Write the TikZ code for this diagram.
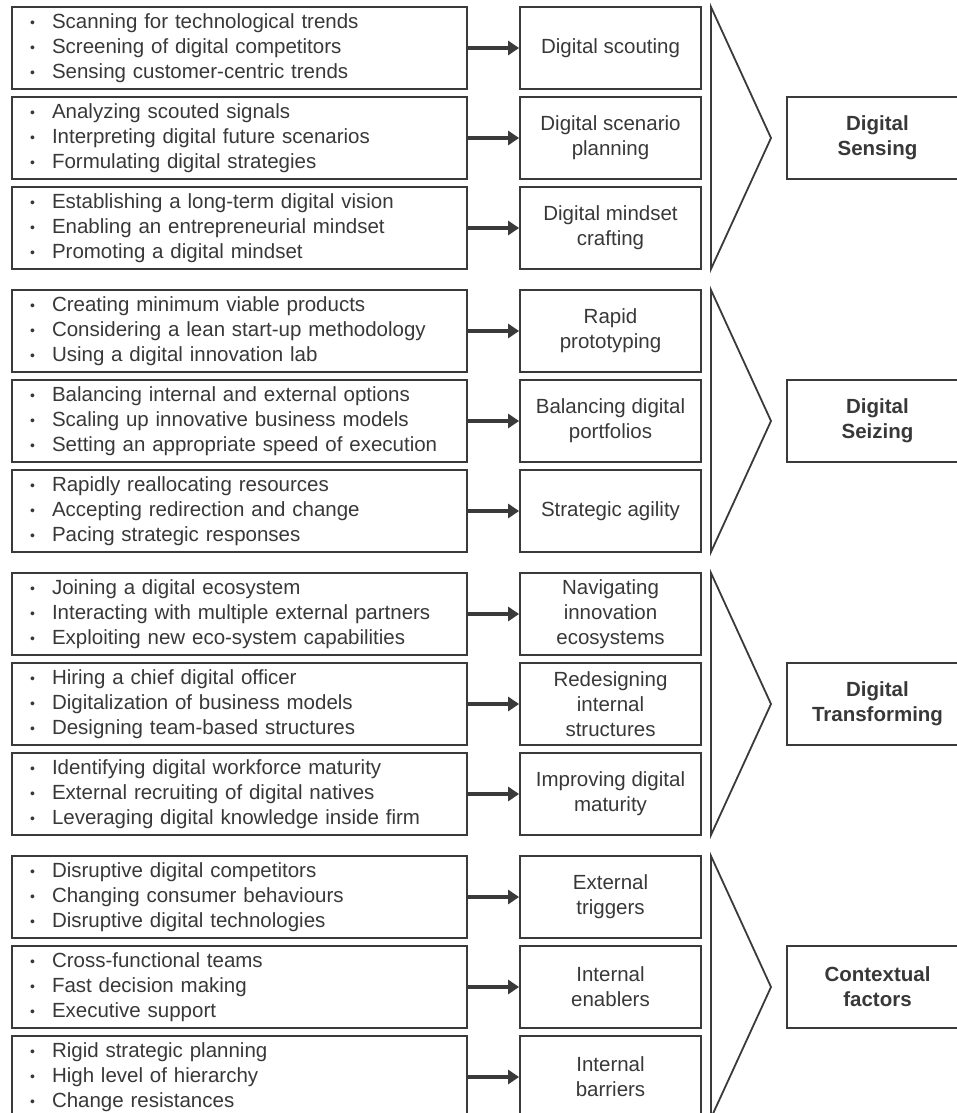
\documentclass[tikz,border=0pt]{standalone}
\usepackage{fontspec}
\setmainfont{Liberation Sans}
\usetikzlibrary{arrows.meta}
\definecolor{linegray}{HTML}{3A3A3A}
\definecolor{textgray}{HTML}{383838}
\newcommand{\itm}[1]{\makebox[22pt][l]{\raisebox{1pt}{\fontsize{14}{14}\selectfont\textbullet}}\mbox{#1}}

\begin{document}
\begin{tikzpicture}[x=1pt, y=-1pt,
  lbox/.style={draw=linegray, line width=1.8pt, text=textgray, text width=419pt, inner xsep=18pt, inner ysep=0pt, minimum height=82pt, align=left, font=\fontsize{20.5}{25}\selectfont},
  mbox/.style={draw=linegray, line width=1.8pt, text=textgray, minimum width=181pt, minimum height=82pt, inner sep=0pt, align=center, font=\fontsize{20.5}{25}\selectfont},
  rbox/.style={mbox, font=\fontsize{20.5}{25}\selectfont\bfseries},
  chev/.style={draw=linegray, line width=1.8pt, line join=miter},
  arr/.style={draw=linegray, line width=3.6pt, -{Triangle[length=11pt, width=14pt]}}]
\useasboundingbox (0,0) rectangle (957,1113);
\clip (0,0) rectangle (957,1113);

% digital sensing
\node[lbox] (l1) at (239.5,48) {\itm{Scanning for technological trends}\\ \itm{Screening of digital competitors}\\ \itm{Sensing customer-centric trends}};
\node[lbox] (l2) at (239.5,138) {\itm{Analyzing scouted signals}\\ \itm{Interpreting digital future scenarios}\\ \itm{Formulating digital strategies}};
\node[lbox] (l3) at (239.5,228) {\itm{Establishing a long-term digital vision}\\ \itm{Enabling an entrepreneurial mindset}\\ \itm{Promoting a digital mindset}};
\node[mbox] (m1) at (610.5,48) {Digital scouting};
\node[mbox] (m2) at (610.5,138) {Digital scenario\\ planning};
\node[mbox] (m3) at (610.5,228) {Digital mindset\\ crafting};
\node[rbox] (r1) at (877.5,138) {Digital\\ Sensing};

% digital seizing
\node[lbox] (l4) at (239.5,331) {\itm{Creating minimum viable products}\\ \itm{Considering a lean start-up methodology}\\ \itm{Using a digital innovation lab}};
\node[lbox] (l5) at (239.5,421) {\itm{Balancing internal and external options}\\ \itm{Scaling up innovative business models}\\ \itm{Setting an appropriate speed of execution}};
\node[lbox] (l6) at (239.5,511) {\itm{Rapidly reallocating resources}\\ \itm{Accepting redirection and change}\\ \itm{Pacing strategic responses}};
\node[mbox] (m4) at (610.5,331) {Rapid\\ prototyping};
\node[mbox] (m5) at (610.5,421) {Balancing digital\\ portfolios};
\node[mbox] (m6) at (610.5,511) {Strategic agility};
\node[rbox] (r2) at (877.5,421) {Digital\\ Seizing};

% digital transforming
\node[lbox] (l7) at (239.5,614) {\itm{Joining a digital ecosystem}\\ \itm{Interacting with multiple external partners}\\ \itm{Exploiting new eco-system capabilities}};
\node[lbox] (l8) at (239.5,704) {\itm{Hiring a chief digital officer}\\ \itm{Digitalization of business models}\\ \itm{Designing team-based structures}};
\node[lbox] (l9) at (239.5,794) {\itm{Identifying digital workforce maturity}\\ \itm{External recruiting of digital natives}\\ \itm{Leveraging digital knowledge inside firm}};
\node[mbox] (m7) at (610.5,614) {Navigating\\ innovation\\ ecosystems};
\node[mbox] (m8) at (610.5,704) {Redesigning\\ internal\\ structures};
\node[mbox] (m9) at (610.5,794) {Improving digital\\ maturity};
\node[rbox] (r3) at (877.5,704) {Digital\\ Transforming};

% contextual factors
\node[lbox] (l10) at (239.5,897) {\itm{Disruptive digital competitors}\\ \itm{Changing consumer behaviours}\\ \itm{Disruptive digital technologies}};
\node[lbox] (l11) at (239.5,987) {\itm{Cross-functional teams}\\ \itm{Fast decision making}\\ \itm{Executive support}};
\node[lbox] (l12) at (239.5,1077) {\itm{Rigid strategic planning}\\ \itm{High level of hierarchy}\\ \itm{Change resistances}};
\node[mbox] (m10) at (610.5,897) {External\\ triggers};
\node[mbox] (m11) at (610.5,987) {Internal\\ enablers};
\node[mbox] (m12) at (610.5,1077) {Internal\\ barriers};
\node[rbox] (r4) at (877.5,987) {Contextual\\ factors};

\foreach \i in {1,...,12}
  \draw[arr] (l\i) -- (m\i);
\foreach \g in {0,1,2,3}
  \draw[chev] (711,{7+283*\g}) -- (771,{138+283*\g}) -- (711,{269+283*\g}) -- cycle;
\end{tikzpicture}
\end{document}
